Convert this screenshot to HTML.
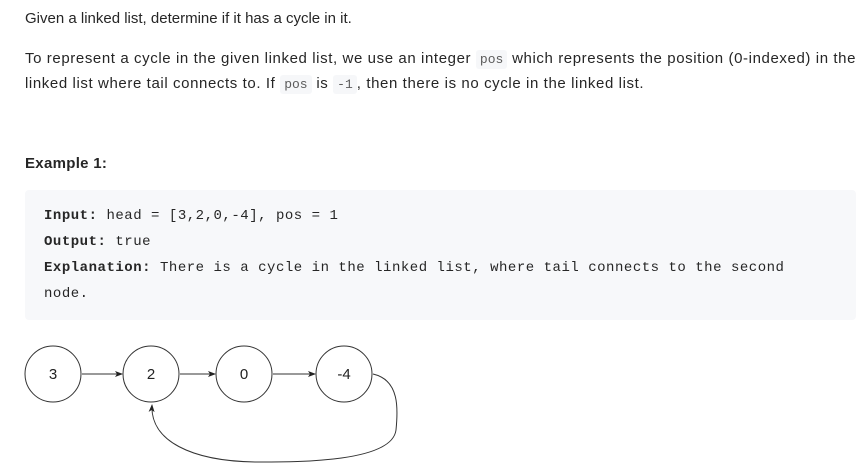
<!DOCTYPE html>
<html><head><style>
body{margin:0;width:864px;height:476px;background:#fff;font-family:"Liberation Sans",sans-serif;color:#262626;font-size:15px;position:relative;overflow:hidden}
.t{position:absolute;left:25px;white-space:nowrap;line-height:20px}
.w{letter-spacing:0.6px}
code{font-family:"Liberation Mono",monospace;font-size:13px;background:#f6f7f9;color:#5c5c5c;padding:2px 4px;border-radius:3px;letter-spacing:0}
.pre{position:absolute;left:25px;top:190px;width:831px;height:130px;background:#f7f8fa;border-radius:4px}
.m{position:absolute;left:44px;font-family:"Liberation Mono",monospace;font-size:14px;color:#262626;white-space:nowrap;line-height:18px;letter-spacing:0.52px}
</style></head><body>
<div class="t" style="top:9px">Given a linked list, determine if it has a cycle in it.</div>
<div class="t w" style="top:49px">To represent a cycle in the given linked list, we use an integer <code>pos</code> which represents the position (0-indexed) in the</div>
<div class="t w" style="top:74px">linked list where tail connects to. If <code>pos</code> is <code>-1</code>, then there is no cycle in the linked list.</div>
<div class="t" style="top:154px;font-weight:bold;letter-spacing:0.3px">Example 1:</div>
<div class="pre"></div>
<div class="m" style="top:207px"><b>Input:</b> head = [3,2,0,-4], pos = 1</div>
<div class="m" style="top:233px"><b>Output:</b> true</div>
<div class="m" style="top:259px"><b>Explanation:</b> There is a cycle in the linked list, where tail connects to the second</div>
<div class="m" style="top:285px">node.</div>
<svg style="position:absolute;left:0;top:0" width="864" height="476">
<defs><marker id="a" markerWidth="8" markerHeight="6" refX="7" refY="3" orient="auto"><path d="M0,0L8,3L0,6L2,3z" fill="#222"/></marker></defs>
<g fill="#fff" stroke="#333" stroke-width="1">
<circle cx="53" cy="374" r="28"/><circle cx="151" cy="374" r="28"/><circle cx="244" cy="374" r="28"/><circle cx="344" cy="374" r="28"/>
</g>
<g stroke="#333" stroke-width="1" fill="none" marker-end="url(#a)">
<line x1="82" y1="374" x2="122" y2="374"/>
<line x1="180" y1="374" x2="215" y2="374"/>
<line x1="273" y1="374" x2="315" y2="374"/>
<path d="M373,374 C400,380 398,410 396,430 C392,462 300,462 260,462 C190,462 150,440 152,405"/>
</g>
<g font-family="Liberation Sans" font-size="15" fill="#222" text-anchor="middle">
<text x="53" y="379">3</text><text x="151" y="379">2</text><text x="244" y="379">0</text><text x="344" y="379">-4</text>
</g>
</svg>
</body></html>
